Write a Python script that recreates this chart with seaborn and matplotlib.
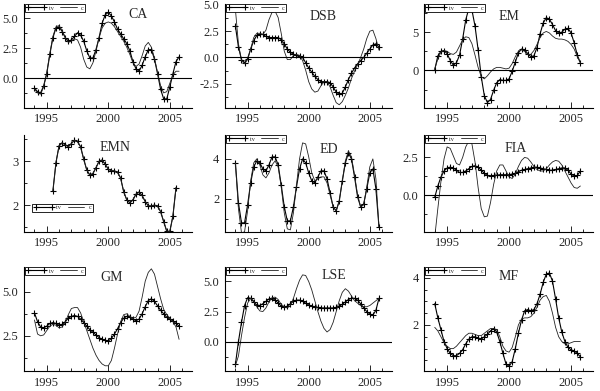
import numpy as np
import matplotlib
matplotlib.use("Agg")
import matplotlib.pyplot as plt
import matplotlib.ticker as ticker
import seaborn as sns

# quarterly dates
quarters = np.arange(1994.0, 2006.0, 0.25)
emn_quarters = np.arange(1995.5, 2005.75, 0.25)

ca_tv = [-0.8, -1.1, -1.2, -0.6, 0.4, 2.0, 3.4, 4.2,
         4.3, 3.9, 3.4, 3.1, 3.2, 3.5, 3.8, 3.6,
         3.1, 2.3, 1.7, 1.7, 2.4, 3.4, 4.6, 5.3,
         5.5, 5.2, 4.7, 4.1, 3.7, 3.3, 2.9, 2.3,
         1.4, 0.8, 0.6, 1.1, 1.8, 2.4, 2.4, 1.6,
         0.4, -0.9, -1.7, -1.7, -0.7, 0.4, 1.4, 1.8]
ca_c = [-0.9, -1.2, -1.3, -0.7, 0.5, 2.1, 3.5, 4.3,
        4.4, 4.0, 3.4, 3.0, 3.1, 3.3, 3.2, 2.6,
        1.6, 0.95, 0.8, 1.3, 2.3, 3.4, 4.2, 4.6,
        4.7, 4.6, 4.3, 3.9, 3.5, 3.1, 2.6, 2.0,
        1.3, 1.0, 1.2, 1.9, 2.7, 3.0, 2.6, 1.7,
        0.5, -0.6, -1.2, -1.1, -0.4, 0.3, 0.6, 0.6]

dsb_tv = [3.0, 1.0, -0.2, -0.5, -0.1, 0.8, 1.6, 2.1,
          2.2, 2.2, 2.0, 1.9, 1.9, 1.9, 1.9, 1.7,
          1.3, 0.8, 0.5, 0.3, 0.2, 0.1, 0.0, -0.5,
          -1.0, -1.4, -1.8, -2.1, -2.3, -2.3, -2.3, -2.4,
          -2.8, -3.3, -3.5, -3.4, -2.8, -2.1, -1.5, -1.0,
          -0.6, -0.3, 0.0, 0.4, 0.8, 1.2, 1.3, 1.0]
dsb_c = [4.6, 1.3, -0.3, -0.6, -0.2, 0.8, 1.9, 2.3,
         2.3, 2.2, 2.6, 3.6, 4.3, 4.4, 3.8, 2.3,
         0.6, -0.2, -0.2, 0.2, 0.3, 0.2, -0.3, -1.2,
         -2.3, -3.0, -3.3, -3.2, -2.7, -2.3, -2.3, -2.8,
         -3.6, -4.3, -4.5, -4.2, -3.6, -2.9, -2.0, -1.3,
         -0.7, 0.0, 0.8, 1.8, 2.5, 2.6, 1.8, 0.7]

em_tv = [0.1, 1.9, 2.5, 2.6, 2.2, 1.3, 0.7, 1.0,
         2.0, 4.1, 6.6, 8.1, 7.9, 5.8, 2.7, -0.8,
         -3.3, -4.2, -3.8, -2.6, -1.6, -1.2, -1.3, -1.3,
         -1.1, -0.1, 1.1, 2.3, 2.8, 2.7, 2.2, 1.8,
         1.9, 3.0, 4.8, 6.2, 6.9, 6.7, 6.0, 5.2,
         4.9, 5.0, 5.4, 5.5, 4.9, 3.6, 2.0, 1.0]
em_c = [0.2, 1.5, 2.4, 2.6, 2.5, 2.2, 2.1, 2.4,
        3.2, 4.0, 4.4, 4.3, 3.5, 2.0, 0.4, -0.8,
        -1.1, -0.7, -0.2, 0.2, 0.4, 0.4, 0.3, 0.2,
        0.3, 0.9, 1.8, 2.5, 2.7, 2.5, 2.1, 2.1,
        2.6, 3.4, 4.3, 4.9, 5.1, 4.9, 4.5, 4.2,
        4.1, 4.1, 4.0, 3.8, 3.4, 2.8, 1.8, 1.0]

emn_tv = [2.33, 2.97, 3.35, 3.42, 3.38, 3.33, 3.40, 3.48, 3.45, 3.33,
          3.05, 2.80, 2.68, 2.72, 2.85, 3.00, 3.03, 2.93, 2.82, 2.78,
          2.78, 2.75, 2.62, 2.30, 2.12, 2.05, 2.12, 2.25, 2.30, 2.22,
          2.08, 1.98, 1.98, 2.00, 1.98, 1.85, 1.62, 1.40, 1.40, 1.75,
          2.40]
emn_c = [2.32, 2.98, 3.36, 3.42, 3.37, 3.33, 3.41, 3.48, 3.44, 3.32,
         3.04, 2.80, 2.69, 2.72, 2.86, 3.00, 3.02, 2.93, 2.82, 2.79,
         2.78, 2.74, 2.61, 2.31, 2.12, 2.06, 2.12, 2.25, 2.29, 2.21,
         2.08, 1.99, 1.98, 2.00, 1.97, 1.85, 1.63, 1.41, 1.40, 1.76,
         2.39]

ed_tv = [3.8, 1.8, 0.8, 0.8, 1.7, 2.8, 3.6, 3.9,
         3.8, 3.5, 3.4, 3.7, 4.1, 4.1, 3.7, 2.7,
         1.6, 0.9, 0.9, 1.6, 2.6, 3.5, 4.0, 3.8,
         3.3, 2.9, 2.8, 3.1, 3.4, 3.4, 3.0, 2.3,
         1.6, 1.4, 1.9, 2.9, 3.8, 4.3, 4.0, 3.1,
         2.1, 1.6, 1.75, 2.5, 3.3, 3.5, 2.5, 0.6]
ed_c = [3.8, 1.5, 0.3, 0.35, 1.4, 2.9, 3.8, 4.0,
        3.7, 3.2, 3.05, 3.3, 3.7, 3.9, 3.6, 2.6,
        1.3, 0.5, 0.45, 1.3, 2.7, 4.0, 4.8, 4.75,
        4.1, 3.3, 2.9, 3.0, 3.1, 3.1, 2.8, 2.2,
        1.6, 1.4, 1.9, 2.9, 3.9, 4.4, 4.1, 3.2,
        2.2, 1.6, 1.7, 2.6, 3.6, 4.0, 3.0, 0.6]

fia_tv = [-0.15, 0.6, 1.2, 1.6, 1.8, 1.85, 1.8, 1.65,
          1.5, 1.5, 1.6, 1.75, 1.9, 1.95, 1.85, 1.65,
          1.45, 1.3, 1.28, 1.3, 1.32, 1.35, 1.35, 1.35,
          1.35, 1.4, 1.45, 1.55, 1.65, 1.7, 1.75, 1.8,
          1.85, 1.85, 1.8, 1.75, 1.7, 1.65, 1.65, 1.7,
          1.75, 1.8, 1.8, 1.65, 1.4, 1.25, 1.3, 1.6]
fia_c = [-2.8, -0.9, 0.9, 2.4, 3.2, 3.1, 2.6, 2.1,
         2.0, 2.5, 3.2, 3.6, 3.4, 2.2, 0.5, -0.9,
         -1.45, -1.4, -0.5, 0.7, 1.6, 2.0, 2.0, 1.6,
         1.2, 1.1, 1.4, 1.9, 2.3, 2.5, 2.45, 2.2,
         1.9, 1.7, 1.6, 1.6, 1.75, 2.0, 2.2, 2.3,
         2.25, 2.0, 1.6, 1.2, 0.8, 0.5, 0.45, 0.6]

gm_tv = [3.8, 3.3, 3.0, 2.95, 3.05, 3.2, 3.25, 3.2,
         3.1, 3.15, 3.3, 3.5, 3.6, 3.65, 3.6, 3.45,
         3.25, 3.05, 2.85, 2.7, 2.55, 2.4, 2.3, 2.25,
         2.2, 2.35, 2.6, 2.9, 3.25, 3.5, 3.6, 3.55,
         3.45, 3.35, 3.45, 3.75, 4.15, 4.5, 4.6, 4.45,
         4.2, 3.95, 3.75, 3.55, 3.45, 3.35, 3.2, 3.05]
gm_c = [3.4, 2.6, 2.5, 2.55, 2.8, 3.05, 3.15, 3.1,
        2.95, 3.0, 3.25, 3.7, 4.05, 4.1, 4.1, 3.8,
        3.3, 2.8, 2.3, 1.8, 1.4, 1.1, 0.9, 0.8,
        0.8, 1.1, 1.8, 2.6, 3.3, 3.7, 3.75, 3.6,
        3.5, 3.55, 3.9, 4.7, 5.6, 6.1, 6.3, 6.0,
        5.3, 4.6, 4.0, 3.7, 3.5, 3.3, 3.0, 2.3]

lse_tv = [-1.9, 0.0, 1.6, 3.0, 3.65, 3.6, 3.3, 3.05,
          3.0, 3.15, 3.35, 3.55, 3.6, 3.45, 3.2, 2.95,
          2.85, 2.95, 3.15, 3.35, 3.45, 3.45, 3.35, 3.2,
          3.05, 2.95, 2.9, 2.85, 2.8, 2.8, 2.8, 2.8,
          2.8, 2.85, 2.95, 3.1, 3.3, 3.5, 3.6, 3.6,
          3.45, 3.15, 2.8, 2.5, 2.3, 2.2, 2.6, 3.6]
lse_c = [-2.0, -1.2, 0.5, 2.0, 3.2, 3.6, 3.4, 2.9,
         2.55, 2.5, 2.8, 3.3, 3.65, 3.7, 3.5, 3.1,
         2.9, 2.8, 3.0, 3.6, 4.4, 5.1, 5.55, 5.5,
         5.0, 4.3, 3.4, 2.5, 1.7, 1.1, 0.8, 1.0,
         1.6, 2.5, 3.4, 4.1, 4.4, 4.2, 3.8, 3.4,
         3.2, 3.0, 2.9, 2.9, 3.0, 3.2, 3.4, 3.6]

mf_tv = [2.9, 2.3, 1.8, 1.3, 1.0, 0.8, 0.7, 0.7,
         0.8, 0.95, 1.2, 1.4, 1.5, 1.5, 1.45, 1.4,
         1.5, 1.6, 1.75, 1.85, 1.7, 1.3, 0.8, 0.35,
         0.25, 0.45, 1.0, 1.65, 2.2, 2.6, 2.65, 2.6,
         2.65, 2.9, 3.3, 3.8, 4.15, 4.2, 3.85, 3.1,
         2.3, 1.7, 1.3, 1.05, 0.95, 0.9, 0.8, 0.65]
mf_c = [1.9, 1.75, 1.5, 1.25, 1.1, 1.0, 1.0, 1.1,
        1.25, 1.4, 1.55, 1.65, 1.65, 1.6, 1.55, 1.55,
        1.65, 1.75, 1.85, 1.85, 1.8, 1.5, 1.1, 0.9,
        0.85, 1.05, 1.5, 2.0, 2.25, 2.3, 2.3, 2.35,
        2.5, 2.75, 3.05, 3.2, 3.25, 3.0, 2.5, 1.9,
        1.5, 1.3, 1.2, 1.2, 1.25, 1.3, 1.3, 1.3]

names = ["CA", "DSB", "EM", "EMN", "ED", "FIA", "GM", "LSE", "MF"]
tv_series = [ca_tv, dsb_tv, em_tv, emn_tv, ed_tv, fia_tv, gm_tv, lse_tv, mf_tv]
c_series = [ca_c, dsb_c, em_c, emn_c, ed_c, fia_c, gm_c, lse_c, mf_c]
x_series = [quarters] * 3 + [emn_quarters] + [quarters] * 5

# layout / style per panel
ylims = [(-2.45, 6.2), (-4.8, 5.1), (-4.9, 8.7), (1.39, 3.6), (0.35, 5.2),
         (-2.45, 4.0), (0.5, 6.4), (-2.45, 6.2), (0.05, 4.45)]
major = [2.5, 2.5, 5, 1, 2, 2.5, 2.5, 2.5, 2]
minor = [2, 2, 2, 2, 2, 2, 2, 2, 4]
zero_line = [True, True, True, False, False, True, False, True, False]
title_pos = [(0.68, 0.9), (0.59, 0.88), (0.5, 0.88), (0.54, 0.87), (0.62, 0.85),
             (0.54, 0.86), (0.52, 0.9), (0.65, 0.92), (0.5, 0.91)]
legend_anchor = [(0.005, 1.0)] * 3 + [(0.05, 0.29)] + [(0.005, 1.0)] * 5

col_left = [0.040, 0.375, 0.707]
col_w = [0.280, 0.278, 0.282]
row_bottom = [0.724, 0.407, 0.051]
row_h = [0.266, 0.248, 0.266]

sns.set_style("ticks")
plt.rcParams['font.family'] = ['Liberation Serif', 'DejaVu Serif']
plt.rcParams['axes.unicode_minus'] = False

fig = plt.figure(figsize=(6, 3.91), dpi=100)

for k, name in enumerate(names):
    r, col = divmod(k, 3)
    ax = fig.add_axes([col_left[col], row_bottom[r], col_w[col], row_h[r]])
    x = x_series[k]
    sns.lineplot(x=x, y=tv_series[k], ax=ax, color='black', lw=0.8,
                 marker='+', markersize=5, markeredgewidth=0.8,
                 markeredgecolor='black',
                 label='tv', estimator=None, sort=False)
    sns.lineplot(x=x, y=c_series[k], ax=ax, color='#222222', lw=0.6,
                 label='c', estimator=None, sort=False)
    if zero_line[k]:
        ax.axhline(0, color='black', lw=0.8)

    ax.set_xlim(1993.15, 2006.8)
    ax.set_ylim(*ylims[k])
    ax.xaxis.set_major_locator(ticker.FixedLocator([1995, 2000, 2005]))
    ax.xaxis.set_minor_locator(ticker.MultipleLocator(1))
    ax.yaxis.set_major_locator(ticker.MultipleLocator(major[k]))
    ax.yaxis.set_minor_locator(ticker.AutoMinorLocator(minor[k]))
    ax.tick_params(which='both', direction='in', labelsize=9, width=0.7, pad=4)
    ax.tick_params(which='major', length=4)
    ax.tick_params(which='minor', length=2.5)
    sns.despine(ax=ax)
    for s in ['left', 'bottom']:
        ax.spines[s].set_linewidth(0.8)
        ax.spines[s].set_color('black')
    ax.set_xlabel('')
    ax.set_ylabel('')

    ax.text(title_pos[k][0], title_pos[k][1], name, transform=ax.transAxes,
            fontsize=10, ha='center', va='center')

    leg = ax.legend(loc='upper left', bbox_to_anchor=legend_anchor[k], ncol=2,
                    fontsize=4.5, frameon=True, fancybox=False, numpoints=2,
                    handlelength=3.2, handletextpad=0.4, columnspacing=0.8,
                    borderpad=0.2, borderaxespad=0, labelspacing=0)
    leg.get_frame().set_edgecolor('black')
    leg.get_frame().set_linewidth(0.6)
    leg.get_frame().set_alpha(1)

fig.savefig("out.png", dpi=100)
